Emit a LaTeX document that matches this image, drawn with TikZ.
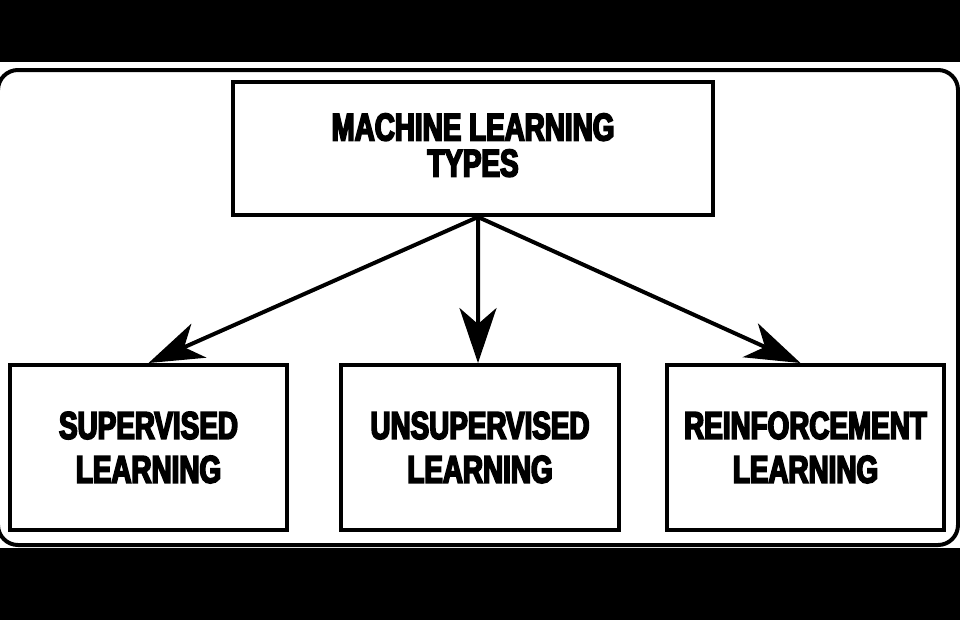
\documentclass[tikz,border=0pt]{standalone}
\usepackage{fontspec}
\newfontfamily\boxfont{Liberation Sans}[FakeStretch=0.72, BoldFeatures={FakeBold=4.5}]
\usetikzlibrary{arrows.meta}

\begin{document}
\begin{tikzpicture}[x=0.02cm, y=-0.02cm]
\coordinate (P_nw) at (0, 0);
\coordinate (P_se) at (960, 620);

\useasboundingbox (P_nw) rectangle (P_se);
\fill[black] (P_nw) rectangle (P_se);
\fill[white] (0, 62) rectangle (960, 548);
\draw[line width=0.08cm, rounded corners=0.4cm] (-2, 70) rectangle (958, 545);


\tikzset{BoxStyle/.style = {
 draw,
 line width = 0.08cm,
 align = center,
 font = \boxfont\bfseries\fontsize{22}{25}\selectfont,
 inner sep = 0pt} }

\tikzset{EdgeStyle/.style = {line width=0.08cm,
 -{Stealth[length=1.1cm, width=0.74cm, inset=0.32cm]}} }

\node[BoxStyle, minimum width=9.6cm, minimum height=2.66cm,
 font=\boxfont\bfseries\fontsize{22}{20.5}\selectfont] (T) at (473, 148.5) {MACHINE LEARNING\\TYPES\\[-0.58cm]};
\node[BoxStyle, minimum width=5.54cm, minimum height=3.3cm] (S) at (148.5, 447.5) {SUPERVISED\\LEARNING};
\node[BoxStyle, minimum width=5.56cm, minimum height=3.3cm] (U) at (480, 447.5) {UNSUPERVISED\\LEARNING};
\node[BoxStyle, minimum width=5.54cm, minimum height=3.3cm] (R) at (805.5, 447.5) {REINFORCEMENT\\LEARNING};

\draw[EdgeStyle] ([xshift=0.1cm]T.south) -- (S.north);
\draw[EdgeStyle] ([xshift=0.1cm]T.south) -- ([xshift=-0.04cm]U.north);
\draw[EdgeStyle] ([xshift=0.1cm]T.south) -- ([xshift=-0.1cm]R.north);

\end{tikzpicture}
\end{document}
